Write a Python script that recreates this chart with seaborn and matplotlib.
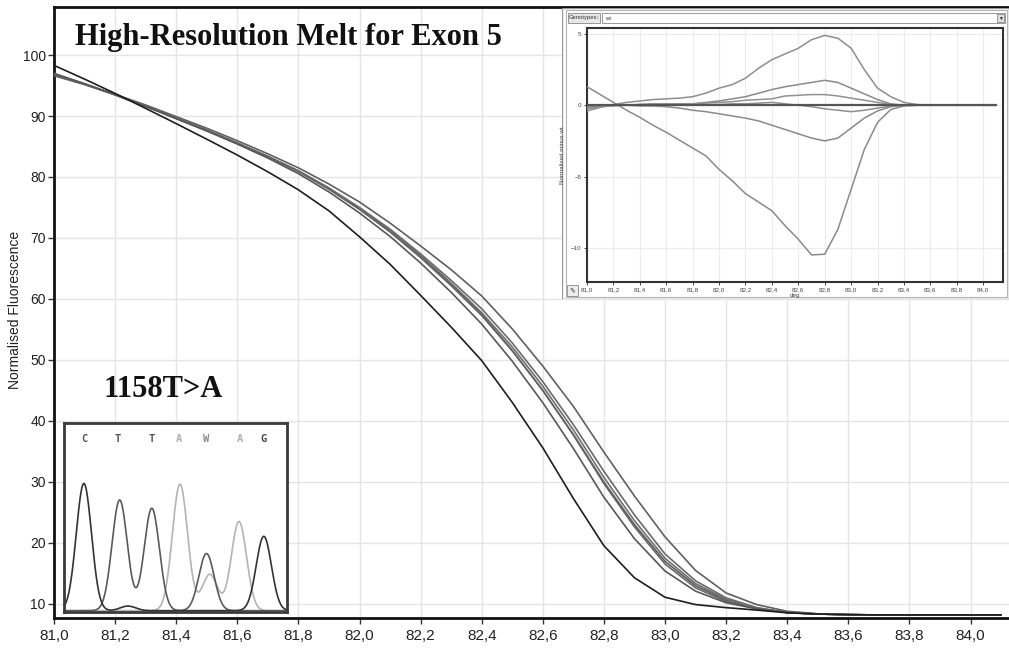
import numpy as np
import pandas as pd
import matplotlib
matplotlib.use("Agg")
import matplotlib.pyplot as plt
import seaborn as sns
from matplotlib.ticker import FuncFormatter, FixedLocator
from matplotlib.patches import Rectangle

# ---------------- data ----------------
temps = [81.0, 81.1, 81.2, 81.3, 81.4, 81.5, 81.6, 81.7, 81.8, 81.9,
         82.0, 82.1, 82.2, 82.3, 82.4, 82.5, 82.6, 82.7, 82.8, 82.9,
         83.0, 83.1, 83.2, 83.3, 83.4, 83.5, 83.6, 83.7, 83.8, 83.9,
         84.0, 84.1]

melt_wt = [97.0, 95.3, 93.5, 91.6, 89.6, 87.6, 85.5, 83.3, 80.9, 78.0,
           74.7, 71.0, 66.8, 62.2, 57.3, 51.5, 45.0, 37.8, 30.0, 23.0,
           17.0, 13.0, 10.6, 9.3, 8.6, 8.35, 8.25, 8.2, 8.2, 8.2, 8.2, 8.2]
melt_a = [96.6, 95.15, 93.55, 91.8, 89.9, 88.0, 85.95, 83.8, 81.5, 78.85,
          75.9, 72.45, 68.7, 64.8, 60.5, 55.1, 49.0, 42.4, 34.9, 27.7,
          21.0, 15.5, 11.8, 9.9, 8.8, 8.4, 8.25, 8.2, 8.2, 8.2, 8.2, 8.2]
melt_b = [96.9, 95.25, 93.5, 91.6, 89.65, 87.65, 85.5, 83.35, 81.0, 78.2,
          75.0, 71.45, 67.4, 63.05, 58.4, 52.8, 46.45, 39.4, 31.75, 24.6,
          18.2, 13.8, 11.0, 9.4, 8.6, 8.35, 8.25, 8.2, 8.2, 8.2, 8.2, 8.2]
melt_c = [96.75, 95.2, 93.45, 91.6, 89.65, 87.7, 85.6, 83.4, 81.0, 78.15,
          74.9, 71.25, 67.15, 62.6, 57.75, 52.15, 45.7, 38.55, 30.75, 23.65,
          17.5, 13.35, 10.8, 9.35, 8.6, 8.35, 8.25, 8.2, 8.2, 8.2, 8.2, 8.2]
melt_d = [96.9, 95.25, 93.5, 91.6, 89.65, 87.65, 85.55, 83.35, 80.95, 78.05,
          74.75, 71.1, 66.9, 62.35, 57.5, 51.6, 45.0, 37.7, 29.75, 22.65,
          16.55, 12.65, 10.4, 9.25, 8.6, 8.35, 8.25, 8.2, 8.2, 8.2, 8.2, 8.2]
melt_e = [96.85, 95.25, 93.5, 91.6, 89.55, 87.55, 85.4, 83.1, 80.55, 77.55,
          74.1, 70.25, 65.9, 61.1, 55.9, 49.8, 43.0, 35.5, 27.5, 20.7,
          15.4, 12.1, 10.2, 9.2, 8.6, 8.35, 8.25, 8.2, 8.2, 8.2, 8.2, 8.2]
melt_mut = [98.3, 96.05, 93.7, 91.25, 88.75, 86.2, 83.6, 80.85, 77.9, 74.45,
            70.2, 65.7, 60.6, 55.4, 49.9, 43.05, 35.6, 27.3, 19.55, 14.3,
            11.1, 9.9, 9.4, 9.0, 8.55, 8.35, 8.25, 8.2, 8.2, 8.2, 8.2, 8.2]

diff_wt = [0.0] * 32
diff_a = [-0.4, -0.15, 0.05, 0.2, 0.3, 0.4, 0.45, 0.5, 0.6, 0.85,
          1.2, 1.45, 1.9, 2.6, 3.2, 3.6, 4.0, 4.6, 4.9, 4.7,
          4.0, 2.5, 1.2, 0.6, 0.2, 0.05, 0, 0, 0, 0, 0, 0]
diff_b = [-0.1, -0.05, 0.0, 0.0, 0.05, 0.05, 0.0, 0.05, 0.1, 0.2,
          0.3, 0.45, 0.6, 0.85, 1.1, 1.3, 1.45, 1.6, 1.75, 1.6,
          1.2, 0.8, 0.4, 0.1, 0.0, 0.0, 0, 0, 0, 0, 0, 0]
diff_c = [-0.25, -0.1, -0.05, 0.0, 0.05, 0.1, 0.1, 0.1, 0.1, 0.15,
          0.2, 0.25, 0.35, 0.4, 0.45, 0.65, 0.7, 0.75, 0.75, 0.65,
          0.5, 0.35, 0.2, 0.05, 0.0, 0.0, 0, 0, 0, 0, 0, 0]
diff_d = [-0.1, -0.05, 0.0, 0.0, 0.05, 0.05, 0.05, 0.05, 0.05, 0.05,
          0.05, 0.1, 0.1, 0.15, 0.2, 0.1, 0.0, -0.1, -0.25, -0.35,
          -0.45, -0.35, -0.2, -0.05, 0.0, 0.0, 0, 0, 0, 0, 0, 0]
diff_e = [-0.15, -0.05, 0.0, 0.0, -0.05, -0.05, -0.1, -0.2, -0.35, -0.45,
          -0.6, -0.75, -0.9, -1.1, -1.4, -1.7, -2.0, -2.3, -2.5, -2.3,
          -1.6, -0.9, -0.4, -0.1, 0.0, 0.0, 0, 0, 0, 0, 0, 0]
diff_mut = [1.3, 0.75, 0.2, -0.35, -0.85, -1.4, -1.9, -2.45, -3.0, -3.55,
            -4.5, -5.3, -6.2, -6.8, -7.4, -8.45, -9.4, -10.5, -10.45, -8.7,
            -5.9, -3.1, -1.2, -0.3, -0.05, 0.0, 0, 0, 0, 0, 0, 0]

x_ticks = [81.0, 81.2, 81.4, 81.6, 81.8, 82.0, 82.2, 82.4, 82.6, 82.8,
           83.0, 83.2, 83.4, 83.6, 83.8, 84.0]
y_ticks = [10, 20, 30, 40, 50, 60, 70, 80, 90, 100]
inset_y_ticks = [5, 0, -5, -10]

# chromatogram (sequence trace)
bases = ["C", "T", "T", "A", "W", "A", "G"]
base_pos = [57, 160, 260, 344, 427, 527, 600]
base_colors = ["#555555", "#555555", "#555555", "#b0b0b0", "#8a8a8a", "#b0b0b0", "#444444"]
peak_pos_dark = [57, 600, 190]
peak_h_dark = [385, 225, 14]
peak_pos_t = [165, 262, 427]
peak_h_t = [335, 310, 173]
peak_pos_a = [347, 437, 525]
peak_h_a = [383, 110, 270]

# ---------------- style ----------------
sns.set_style("white")
plt.rcParams["font.family"] = ["Liberation Sans", "DejaVu Sans"]

fig = plt.figure(figsize=(10.09, 6.49), dpi=100)
W, H = 1009.0, 649.0


def fr(x0, y_top, x1, y_bot):
    return [x0 / W, 1 - y_bot / H, (x1 - x0) / W, (y_bot - y_top) / H]


# ---------------- main axes ----------------
ax = fig.add_axes(fr(54, 7, 54 + 3.14 * 305.5, 618))
curves = [("wt", melt_wt, "#5c5c5c"), ("a", melt_a, "#606060"), ("b", melt_b, "#6a6a6a"),
          ("c", melt_c, "#707070"), ("d", melt_d, "#666666"), ("e", melt_e, "#585858"),
          ("mut", melt_mut, "#1e1e1e")]
for name, vals, col in curves:
    sns.lineplot(x=temps, y=vals, ax=ax, color=col, linewidth=1.2, zorder=3)

ax.set_xlim(81.0, 84.14)
ax.set_ylim(7.7, 107.87)
ax.xaxis.set_major_locator(FixedLocator(x_ticks))
ax.yaxis.set_major_locator(FixedLocator(y_ticks))
ax.xaxis.set_major_formatter(FuncFormatter(lambda v, p: f"{v:.1f}".replace(".", ",")))
ax.grid(True, color="#e4e4e4", linewidth=1.0, zorder=0)
for s in ["left", "bottom", "top"]:
    ax.spines[s].set_visible(True)
    ax.spines[s].set_color("#111111")
    ax.spines[s].set_linewidth(2.0)
ax.spines["right"].set_visible(False)
ax.tick_params(axis="both", direction="out", length=4, width=1, color="#333333",
               labelsize=10, labelcolor="#222222", left=True, bottom=True)
ax.tick_params(axis="y", pad=2)
ax.tick_params(axis="x", pad=4)
for lab in ax.get_xticklabels():
    lab.set_fontsize(11)
ax.set_ylabel("")
ax.set_xlabel("")
fig.text(15 / W, 1 - 310 / H, "Normalised Fluorescence", rotation=90, fontsize=10,
         color="#222222", ha="center", va="center")

fig.text(75 / W, 1 - 45 / H, "High-Resolution Melt for Exon 5", fontsize=22,
         fontweight="bold", family=["Liberation Serif", "DejaVu Serif"], va="baseline",
         ha="left", color="#111111")
fig.text(103 / W, 1 - 397 / H, "1158T>A", fontsize=22, fontweight="bold",
         family=["Liberation Serif", "DejaVu Serif"], va="baseline", ha="left",
         color="#111111")

# ---------------- chromatogram inset ----------------
cax = fig.add_axes(fr(64, 423, 287, 612))
cx = np.linspace(0, 667, 700)
sig = 23.0


def trace(pos, hts):
    y = np.zeros_like(cx)
    for p, h in zip(pos, hts):
        y += h * np.exp(-0.5 * ((cx - p) / sig) ** 2)
    return y


sns.lineplot(x=cx, y=trace(peak_pos_a, peak_h_a), ax=cax, color="#b4b4b4", linewidth=1.2)
sns.lineplot(x=cx, y=trace(peak_pos_t, peak_h_t), ax=cax, color="#5a5a5a", linewidth=1.2)
sns.lineplot(x=cx, y=trace(peak_pos_dark, peak_h_dark), ax=cax, color="#333333", linewidth=1.2)
for b, p, c in zip(bases, base_pos, base_colors):
    cax.text(p, 520, b, ha="center", va="center", fontsize=7.5, color=c,
             family=["DejaVu Sans Mono"], fontweight="bold")
cax.set_xlim(-3, 670)
cax.set_ylim(-4, 568)
cax.set_xticks([])
cax.set_yticks([])
cax.set_facecolor("white")
for s in cax.spines.values():
    s.set_visible(True)
    s.set_color("#3a3a3a")
    s.set_linewidth(2.0)

# ---------------- difference plot window (top right) ----------------
panel = fig.add_axes([562 / W, 1 - 299 / H, (1009 - 562) / W, (299 - 8) / H])
panel.set_xlim(562, 1009)
panel.set_ylim(299, 8)
panel.axis("off")
panel.add_patch(Rectangle((562, 8), 447, 291, facecolor="white", edgecolor="#9a9a9a", lw=1.0))
panel.add_patch(Rectangle((565.5, 10), 441, 287, facecolor="none", edgecolor="#b5b5b5", lw=0.8))
panel.add_patch(Rectangle((568, 13), 32, 10, facecolor="#e6e6e6", edgecolor="#888888", lw=0.6))
panel.text(584, 18, "Genotypes:", fontsize=4.2, ha="center", va="center", color="#333333")
panel.add_patch(Rectangle((602, 13), 403, 10, facecolor="white", edgecolor="#888888", lw=0.6))
panel.text(605, 18, "wt", fontsize=4.2, ha="left", va="center", color="#333333")
panel.add_patch(Rectangle((997, 14), 7, 8, facecolor="#e0e0e0", edgecolor="#777777", lw=0.5))
panel.text(1000.5, 18.5, "▼", fontsize=3.5, ha="center", va="center", color="#222222")
panel.add_patch(Rectangle((567, 285), 11, 11, facecolor="#eeeeee", edgecolor="#888888", lw=0.6))
panel.text(572.5, 290.5, "✎", fontsize=5, ha="center", va="center", color="#333333")

iax = fig.add_axes(fr(587, 28, 1003, 282))
diffs = [(diff_a, "#8e8e8e"), (diff_b, "#8a8a8a"), (diff_c, "#929292"),
         (diff_d, "#8e8e8e"), (diff_e, "#8a8a8a"), (diff_mut, "#8a8a8a"),
         (diff_wt, "#555555")]
for vals, col in diffs:
    sns.lineplot(x=temps, y=vals, ax=iax, color=col,
                 linewidth=1.6 if col == "#555555" else 1.1, zorder=3)
iax.set_xlim(81.0, 84.15)
iax.set_ylim(-12.4, 5.42)
iax.xaxis.set_major_locator(FixedLocator(x_ticks))
iax.yaxis.set_major_locator(FixedLocator(inset_y_ticks))
iax.xaxis.set_major_formatter(FuncFormatter(lambda v, p: f"{v:.1f}".replace(".", ",")))
iax.grid(True, color="#ececec", linewidth=0.8, zorder=0)
iax.set_facecolor("white")
for s in iax.spines.values():
    s.set_visible(True)
    s.set_color("#333333")
    s.set_linewidth(1.5)
iax.tick_params(axis="both", direction="out", length=2, width=0.6, labelsize=4.5,
                labelcolor="#444444", pad=2, left=True, bottom=True)
iax.set_xlabel("deg", fontsize=4.5, color="#444444", labelpad=0)
iax.set_ylabel("Normalised minus wt", fontsize=4.5, color="#444444", labelpad=4)

fig.savefig("out.png", dpi=100)
